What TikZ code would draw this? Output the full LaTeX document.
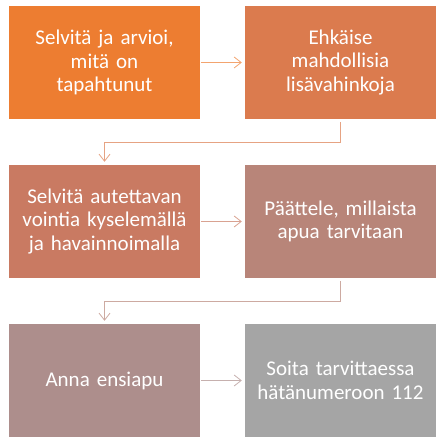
\documentclass[tikz,border=0pt]{standalone}
\usepackage{fontspec}
\setmainfont{Carlito}
\usepackage{xcolor}
\usetikzlibrary{arrows.meta}

\definecolor{paso1}{HTML}{ED7D31}
\definecolor{paso2}{HTML}{DB7B4E}
\definecolor{paso3}{HTML}{C97A62}
\definecolor{paso4}{HTML}{B88579}
\definecolor{paso5}{HTML}{AD8E8C}
\definecolor{paso6}{HTML}{A5A5A5}

\begin{document}
\begin{tikzpicture}[x=1pt,y=1pt,
    caja/.style={minimum width=191pt,minimum height=113pt,inner sep=0pt,
      text=white,align=center,text width=186pt,
      font=\fontsize{21}{23.5}\selectfont},
    flecha/.style={line width=0.8pt,-{Straight Barb[length=7pt,width=11pt]}}]
    \useasboundingbox (0,0) rectangle (441,443);

    \node[caja,fill=paso1] (selvita) at (104.5,380.5) {Selvitä ja arvioi,\\mitä on\\tapahtunut};
    \node[caja,fill=paso2] (ehkaise) at (340.5,380.5) {Ehkäise\\mahdollisia\\lisävahinkoja};
    \node[caja,fill=paso3] (vointi) at (104.5,221.5) {Selvitä autettavan\\vointia kyselemällä\\ja havainnoimalla};
    \node[caja,fill=paso4] (paattele) at (340.5,221.5) {Päättele, millaista\\apua tarvitaan};
    \node[caja,fill=paso5] (ensiapu) at (104.5,62.5) {Anna ensiapu};
    \node[caja,fill=paso6] (soita) at (340.5,62.5) {Soita tarvittaessa\\hätänumeroon 112};

    \draw[flecha,paso1!70,shorten <=1pt,shorten >=3pt] (selvita) -- (ehkaise);
    \draw[flecha,paso2!70,shorten <=3pt,shorten >=3pt] (ehkaise.south) -- ++(0,-23) -| (vointi.north);
    \draw[flecha,paso3!70,shorten <=1pt,shorten >=3pt] (vointi) -- (paattele);
    \draw[flecha,paso4!70,shorten <=3pt,shorten >=3pt] (paattele.south) -- ++(0,-23) -| (ensiapu.north);
    \draw[flecha,paso5!70,shorten <=1pt,shorten >=3pt] (ensiapu) -- (soita);
\end{tikzpicture}
\end{document}
